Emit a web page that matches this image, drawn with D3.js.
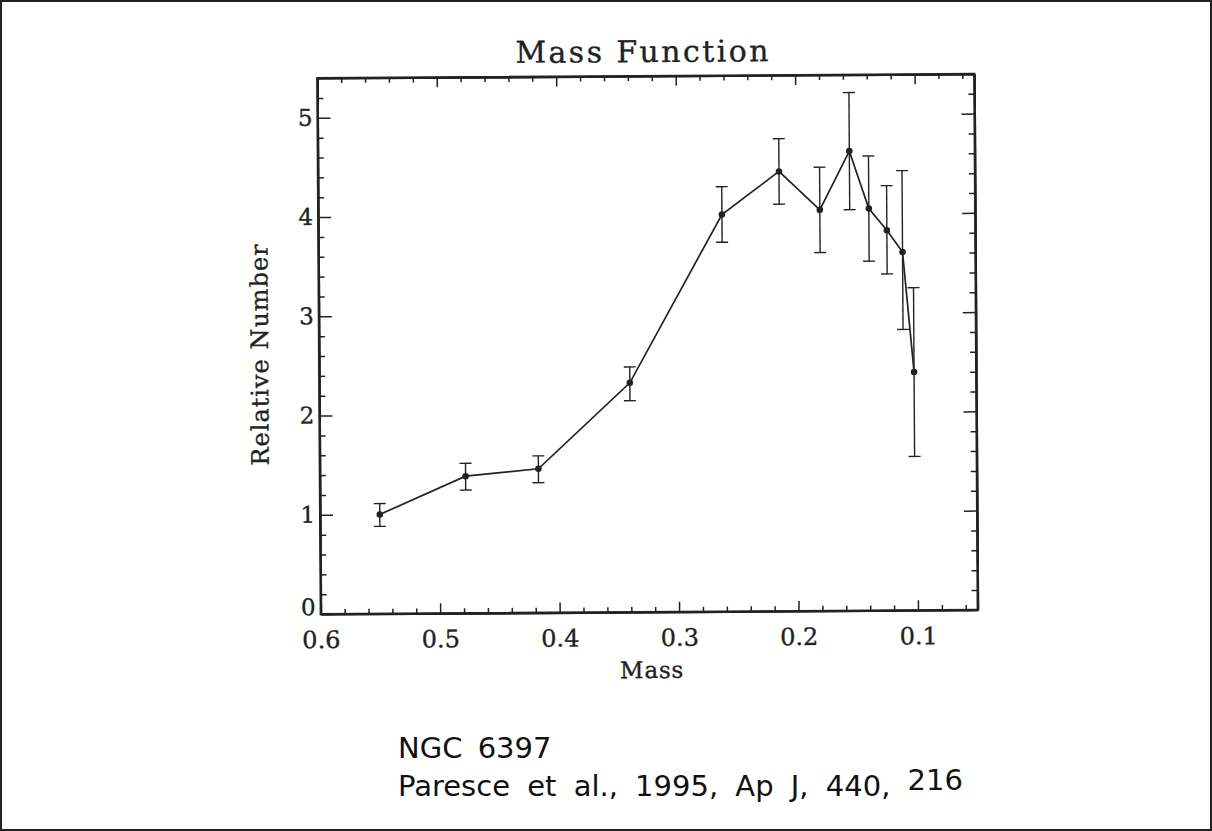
<!DOCTYPE html>
<html>
<head>
<meta charset="utf-8">
<script src="https://cdn.jsdelivr.net/npm/d3@7"></script>
<style>
  html, body { margin: 0; padding: 0; background: #fff; }
  svg { display: block; }
  .axis path, .axis line { stroke: #222; }
  .axis text { font-family: 'DejaVu Serif', serif; fill: #222; stroke: #222; stroke-width: 0.35px; }
  .label { font-family: 'DejaVu Serif', serif; fill: #222; stroke: #222; stroke-width: 0.35px; }
  .note { font-family: 'DejaVu Sans', sans-serif; fill: #111; }
</style>
</head>
<body>
<script>
// values (Paresce et al. 1995)
const mass = [0.55, 0.478, 0.417, 0.34, 0.262, 0.214, 0.180, 0.155, 0.139, 0.124, 0.111, 0.102];
const relNumber = [1.00, 1.38, 1.45, 2.31, 4.00, 4.43, 4.04, 4.63, 4.05, 3.83, 3.61, 2.40];
const errLow = [0.88, 1.24, 1.31, 2.13, 3.72, 4.10, 3.61, 4.04, 3.52, 3.39, 2.83, 1.55];
const errHigh = [1.11, 1.51, 1.58, 2.47, 4.28, 4.76, 4.47, 5.22, 4.58, 4.28, 4.43, 3.25];

const xMajor = [0.6, 0.5, 0.4, 0.3, 0.2, 0.1];
const yMajor = [0, 1, 2, 3, 4, 5];

const width = 1212;
const height = 831;
const plotLeft = 319, plotRight = 976, plotTop = 76, plotBottom = 612;

const data = mass.map((m, i) => ({ m: m, v: relNumber[i], lo: errLow[i], hi: errHigh[i] }));

const svg = d3.select('body')
    .append('svg')
    .attr('width', width)
    .attr('height', height);

// outer border of the page
svg.append('rect')
    .attr('x', 1)
    .attr('y', 1)
    .attr('width', width - 2)
    .attr('height', height - 2)
    .attr('fill', 'none')
    .attr('stroke', '#222')
    .attr('stroke-width', 2);

// the scan is a little tilted
const g = svg.append('g')
    .attr('transform', 'rotate(-0.37, 647, 345)');

const xScale = d3.scaleLinear()
    .domain([0.6, 0.05])
    .range([plotLeft, plotRight]);

const yScale = d3.scaleLinear()
    .domain([0, 5.4])
    .range([plotBottom, plotTop]);

const xMinor = d3.range(0.58, 0.05, -0.02).filter(d => Math.abs(d * 10 - Math.round(d * 10)) > 0.01);
const yMinor = d3.range(0.2, 5.4, 0.2).filter(d => Math.abs(d - Math.round(d)) > 0.01);

// bottom axis
g.append('g')
    .attr('class', 'axis')
    .attr('transform', 'translate(0,' + plotBottom + ')')
    .style('font-size', '24px')
    .call(d3.axisBottom(xScale).tickValues(xMajor).tickSize(-10).tickPadding(17).tickSizeOuter(0).tickFormat(d3.format('.1f')));
g.append('g')
    .attr('class', 'axis')
    .attr('transform', 'translate(0,' + plotBottom + ')')
    .call(d3.axisBottom(xScale).tickValues(xMinor).tickSize(-5).tickSizeOuter(0).tickFormat(''));

// top axis
g.append('g')
    .attr('class', 'axis')
    .attr('transform', 'translate(0,' + plotTop + ')')
    .call(d3.axisTop(xScale).tickValues(xMajor).tickSize(-10).tickSizeOuter(0).tickFormat(''));
g.append('g')
    .attr('class', 'axis')
    .attr('transform', 'translate(0,' + plotTop + ')')
    .call(d3.axisTop(xScale).tickValues(xMinor).tickSize(-5).tickSizeOuter(0).tickFormat(''));

// left axis
const yAxisG = g.append('g')
    .attr('class', 'axis')
    .attr('transform', 'translate(' + plotLeft + ',0)')
    .style('font-size', '23px')
    .call(d3.axisLeft(yScale).tickValues(yMajor).tickSize(-13).tickPadding(5).tickSizeOuter(0).tickFormat(d3.format('d')));
// the "0" sits a little above the corner in the original
yAxisG.selectAll('.tick text')
    .filter(d => d === 0)
    .attr('dy', '0.02em');
g.append('g')
    .attr('class', 'axis')
    .attr('transform', 'translate(' + plotLeft + ',0)')
    .call(d3.axisLeft(yScale).tickValues(yMinor).tickSize(-6).tickSizeOuter(0).tickFormat(''));

// right axis
g.append('g')
    .attr('class', 'axis')
    .attr('transform', 'translate(' + plotRight + ',0)')
    .call(d3.axisRight(yScale).tickValues(yMajor).tickSize(-13).tickSizeOuter(0).tickFormat(''));
g.append('g')
    .attr('class', 'axis')
    .attr('transform', 'translate(' + plotRight + ',0)')
    .call(d3.axisRight(yScale).tickValues(yMinor).tickSize(-6).tickSizeOuter(0).tickFormat(''));

g.selectAll('.axis path').attr('stroke-width', 2);
g.selectAll('.axis line').attr('stroke-width', 1.5);

// frame
g.append('rect')
    .attr('x', plotLeft)
    .attr('y', plotTop)
    .attr('width', plotRight - plotLeft)
    .attr('height', plotBottom - plotTop)
    .attr('fill', 'none')
    .attr('stroke', '#222')
    .attr('stroke-width', 2.2);

// error bars
const bars = g.selectAll('.err')
    .data(data)
    .enter()
    .append('g')
    .attr('class', 'err')
    .attr('stroke', '#222')
    .attr('stroke-width', 1.4);

bars.append('line')
    .attr('x1', d => xScale(d.m))
    .attr('x2', d => xScale(d.m))
    .attr('y1', d => yScale(d.lo))
    .attr('y2', d => yScale(d.hi));
bars.append('line')
    .attr('x1', d => xScale(d.m) - 6)
    .attr('x2', d => xScale(d.m) + 6)
    .attr('y1', d => yScale(d.lo))
    .attr('y2', d => yScale(d.lo));
bars.append('line')
    .attr('x1', d => xScale(d.m) - 6)
    .attr('x2', d => xScale(d.m) + 6)
    .attr('y1', d => yScale(d.hi))
    .attr('y2', d => yScale(d.hi));

// connecting line
const line = d3.line()
    .x(d => xScale(d.m))
    .y(d => yScale(d.v));

g.append('path')
    .datum(data)
    .attr('d', line)
    .attr('fill', 'none')
    .attr('stroke', '#222')
    .attr('stroke-width', 1.7);

g.selectAll('.pt')
    .data(data)
    .enter()
    .append('circle')
    .attr('class', 'pt')
    .attr('cx', d => xScale(d.m))
    .attr('cy', d => yScale(d.v))
    .attr('r', 3.3)
    .attr('fill', '#222');

// titles
g.append('text')
    .attr('class', 'label')
    .attr('x', 645)
    .attr('y', 62)
    .attr('text-anchor', 'middle')
    .style('font-size', '30px')
    .style('letter-spacing', '2.4px')
    .text('Mass Function');

g.append('text')
    .attr('class', 'label')
    .attr('x', 650)
    .attr('y', 678)
    .attr('text-anchor', 'middle')
    .style('font-size', '23px')
    .style('letter-spacing', '0.8px')
    .text('Mass');

g.append('text')
    .attr('class', 'label')
    .attr('transform', 'translate(268,352) rotate(-90)')
    .attr('text-anchor', 'middle')
    .style('font-size', '24px')
    .style('letter-spacing', '1px')
    .text('Relative Number');

// handwritten note under the plot
svg.append('text')
    .attr('class', 'note')
    .attr('x', 398)
    .attr('y', 758)
    .style('font-size', '29px')
    .style('word-spacing', '6px')
    .text('NGC 6397');

const ref = svg.append('text')
    .attr('class', 'note')
    .attr('x', 398)
    .attr('y', 796)
    .style('font-size', '29px')
    .style('word-spacing', '8px');
ref.append('tspan').text('Paresce et al., 1995, Ap J, 440, ');
ref.append('tspan').attr('dy', -6).text('216');
</script>
</body>
</html>
